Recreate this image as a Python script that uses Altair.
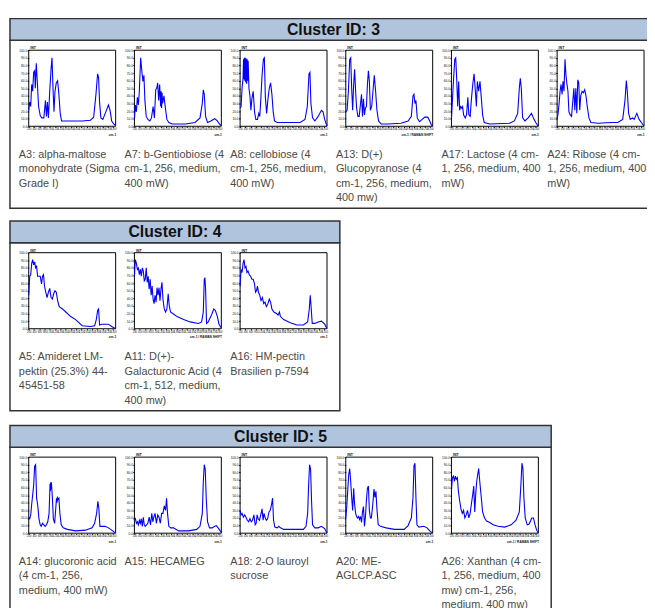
import altair as alt
import pandas as pd

# ---------------- data: (Raman shift cm-1, intensity %) read from the thumbnails
A3 = [(200,21),(237,32),(275,26),(312,55),(349,46),(387,71),(424,73),(449,50),(486,83),(524,59),(574,26),(636,14),(698,11),(773,11),(835,34),(872,13),(910,32),(947,11),(997,46),(1047,75),(1084,90),(1121,50),(1159,19),(1196,46),(1246,57),(1296,60),(1345,42),(1395,17),(1445,7),(1980,7),(2229,7),(2541,8),(2665,12),(2752,42),(2815,69),(2852,64),(2889,32),(2939,11),(3014,9),(3126,19),(3225,28),(3288,21),(3350,7),(3425,3),(3499,1)]
A7 = [(200,9),(237,28),(275,19),(312,38),(349,28),(387,46),(437,90),(486,71),(524,59),(561,67),(598,34),(648,13),(710,9),(785,7),(847,11),(910,26),(959,11),(1009,48),(1047,50),(1084,57),(1121,34),(1159,55),(1196,26),(1215,46),(1233,24),(1250,44),(1271,30),(1321,40),(1370,26),(1433,9),(1507,5),(1632,3),(2130,3),(2503,5),(2690,11),(2777,30),(2815,48),(2852,42),(2902,13),(2976,5),(3101,7),(3250,10),(3350,7),(3425,3),(3499,1)]
A8 = [(200,24),(237,26),(275,50),(312,63),(330,88),(345,62),(360,90),(378,60),(395,90),(412,58),(430,89),(450,56),(470,88),(490,60),(505,86),(536,50),(574,40),(611,21),(648,36),(698,46),(748,19),(798,9),(860,9),(910,17),(947,13),(984,34),(1034,67),(1084,88),(1121,90),(1159,38),(1208,17),(1258,36),(1308,50),(1358,57),(1408,42),(1457,19),(1507,7),(1607,5),(2478,5),(2665,9),(2752,26),(2815,69),(2852,71),(2889,30),(2951,11),(3039,7),(3163,13),(3288,21),(3350,19),(3412,9),(3499,0)]
A13 = [(200,19),(250,21),(300,46),(349,88),(387,90),(424,50),(461,21),(499,55),(536,75),(574,46),(611,24),(661,13),(710,13),(760,30),(798,42),(835,13),(872,36),(910,15),(947,24),(984,26),(1022,55),(1059,73),(1096,59),(1134,21),(1184,26),(1233,46),(1283,67),(1333,46),(1383,21),(1445,7),(1545,3),(1794,3),(2292,4),(2566,7),(2690,13),(2752,40),(2790,42),(2827,30),(2864,34),(2914,11),(3001,6),(3101,9),(3200,12),(3313,12),(3387,7),(3449,2),(3499,0)]
A17 = [(200,9),(237,34),(275,59),(325,88),(362,90),(399,63),(437,26),(474,59),(511,21),(549,26),(586,24),(623,26),(661,15),(723,11),(773,15),(823,38),(860,15),(910,13),(959,36),(1009,55),(1059,69),(1109,46),(1146,26),(1184,59),(1233,46),(1283,59),(1333,38),(1383,15),(1445,5),(1657,3),(2404,4),(2590,7),(2715,17),(2777,50),(2815,63),(2852,50),(2902,11),(2989,7),(3113,11),(3238,17),(3313,11),(3400,5),(3499,0)]
A24 = [(200,9),(237,17),(275,30),(312,46),(349,55),(387,42),(424,59),(461,46),(499,88),(536,67),(574,55),(611,46),(648,19),(698,15),(748,13),(798,34),(835,50),(872,21),(910,50),(947,17),(984,61),(1022,57),(1059,21),(1096,40),(1146,46),(1196,44),(1246,48),(1296,40),(1345,26),(1408,11),(1482,5),(1756,4),(2254,5),(2503,5),(2690,9),(2777,34),(2827,60),(2864,46),(2914,17),(2976,9),(3064,11),(3126,9),(3225,17),(3313,9),(3400,5),(3499,0)]
A5 = [(200,44),(237,69),(275,71),(312,86),(349,91),(387,84),(424,88),(461,80),(499,82),(536,69),(586,69),(636,69),(686,59),(723,69),(760,71),(798,56),(847,48),(897,41),(947,48),(997,53),(1047,41),(1096,39),(1146,46),(1196,50),(1246,48),(1296,37),(1358,29),(1482,26),(1607,22),(1794,16),(1980,12),(2229,4),(2541,3),(2702,4),(2765,12),(2815,24),(2852,26),(2889,5),(2976,6),(3101,6),(3225,6),(3350,3),(3499,0)]
A11 = [(200,69),(237,91),(275,86),(312,78),(349,80),(387,71),(424,78),(461,69),(499,80),(536,76),(574,63),(611,65),(648,80),(686,61),(723,69),(760,52),(798,65),(835,44),(872,56),(910,39),(947,33),(984,44),(1022,35),(1059,54),(1096,44),(1134,54),(1171,37),(1208,52),(1246,61),(1283,39),(1333,26),(1383,22),(1433,26),(1482,46),(1520,31),(1570,22),(1657,20),(1819,16),(2068,12),(2317,9),(2628,7),(2752,9),(2815,22),(2852,65),(2877,67),(2902,52),(2939,7),(3001,9),(3126,18),(3213,26),(3275,24),(3350,16),(3412,6),(3499,1)]
A16 = [(200,56),(237,78),(275,74),(312,86),(349,91),(387,80),(424,82),(461,74),(499,76),(549,71),(598,69),(648,65),(698,65),(748,59),(785,48),(823,50),(860,56),(897,48),(947,44),(997,37),(1047,41),(1096,33),(1146,35),(1196,29),(1258,33),(1308,39),(1358,35),(1408,26),(1482,22),(1582,20),(1644,18),(1694,22),(1731,16),(1856,12),(2105,8),(2354,5),(2603,5),(2765,9),(2827,26),(2864,44),(2902,26),(2939,7),(3039,7),(3163,9),(3288,10),(3412,6),(3499,0)]
A14 = [(200,21),(237,19),(275,24),(312,38),(349,50),(387,63),(424,88),(461,90),(499,46),(536,38),(561,30),(586,19),(636,11),(673,9),(723,13),(773,11),(823,9),(872,11),(922,15),(972,26),(1009,65),(1022,55),(1034,67),(1047,58),(1059,67),(1096,48),(1134,19),(1184,13),(1233,36),(1252,46),(1271,40),(1290,48),(1308,44),(1345,46),(1383,26),(1433,11),(1507,7),(1669,5),(1980,3),(2354,4),(2603,7),(2702,13),(2777,26),(2827,42),(2864,32),(2902,9),(2976,9),(3101,9),(3225,7),(3350,4),(3499,0)]
A15 = [(200,17),(237,19),(275,13),(312,15),(349,11),(387,17),(424,13),(461,19),(499,9),(536,21),(574,11),(611,9),(661,11),(710,13),(760,21),(810,11),(860,26),(897,15),(935,21),(984,26),(1034,13),(1084,24),(1134,21),(1184,13),(1233,26),(1283,26),(1333,36),(1383,30),(1420,46),(1457,26),(1507,9),(1582,7),(1682,7),(1881,3),(2254,3),(2566,5),(2690,9),(2777,26),(2815,67),(2852,90),(2889,84),(2927,46),(2976,15),(3051,7),(3151,7),(3250,9),(3313,10),(3400,6),(3499,1)]
A18 = [(200,30),(237,24),(275,26),(325,21),(374,24),(424,21),(474,17),(524,15),(574,19),(623,15),(673,17),(723,24),(773,11),(810,13),(847,24),(885,19),(935,17),(984,24),(1034,32),(1072,17),(1109,26),(1146,21),(1196,17),(1246,19),(1296,28),(1345,30),(1395,38),(1433,46),(1470,17),(1520,8),(1607,7),(1669,9),(1731,7),(1856,5),(2105,5),(2603,5),(2702,9),(2765,26),(2802,63),(2839,90),(2877,84),(2914,42),(2951,11),(3039,7),(3163,7),(3288,9),(3412,6),(3499,0)]
A20 = [(200,20),(237,35),(275,56),(312,77),(349,85),(387,68),(424,47),(461,30),(499,59),(536,38),(574,26),(611,22),(648,20),(686,22),(723,18),(760,22),(798,14),(835,28),(872,35),(910,9),(947,22),(984,43),(1022,59),(1059,62),(1096,30),(1134,20),(1171,20),(1221,36),(1271,58),(1308,47),(1345,55),(1383,32),(1433,11),(1520,9),(1731,7),(2043,5),(2416,5),(2566,10),(2690,20),(2752,47),(2790,89),(2827,92),(2864,47),(2902,11),(2976,8),(3163,9),(3288,7),(3387,3),(3499,0)]
A26 = [(200,56),(237,73),(275,75),(312,68),(349,75),(387,71),(424,73),(461,56),(511,43),(561,32),(611,26),(661,30),(710,20),(760,24),(810,30),(860,20),(910,26),(959,39),(1009,51),(1047,62),(1084,28),(1121,51),(1159,68),(1196,77),(1233,85),(1283,65),(1333,47),(1383,28),(1457,20),(1532,16),(1657,14),(1781,11),(1968,9),(2217,8),(2466,11),(2653,17),(2777,28),(2839,65),(2877,92),(2914,85),(2951,47),(3001,20),(3076,11),(3151,12),(3250,20),(3313,20),(3375,11),(3437,4),(3499,0)]

SPECTRA = {"A3": A3, "A7": A7, "A8": A8, "A13": A13, "A17": A17, "A24": A24,
           "A5": A5, "A11": A11, "A16": A16,
           "A14": A14, "A15": A15, "A18": A18, "A20": A20, "A26": A26}

CLUSTER_IDS = [3, 4, 5]
MEMBERS = [["A3", "A7", "A8", "A13", "A17", "A24"],
           ["A5", "A11", "A16"],
           ["A14", "A15", "A18", "A20", "A26"]]
CAPTIONS = {
    "A3": "A3: alpha-maltose\nmonohydrate (Sigma\nGrade I)",
    "A7": "A7: b-Gentiobiose (4\ncm-1, 256, medium,\n400 mW)",
    "A8": "A8: cellobiose (4\ncm-1, 256, medium,\n400 mW)",
    "A13": "A13: D(+)\nGlucopyranose (4\ncm-1, 256, medium,\n400 mw)",
    "A17": "A17: Lactose (4 cm-\n1, 256, medium, 400\nmW)",
    "A24": "A24: Ribose (4 cm-\n1, 256, medium, 400\nmW)",
    "A5": "A5: Amideret LM-\npektin (25.3%) 44-\n45451-58",
    "A11": "A11: D(+)-\nGalacturonic Acid (4\ncm-1, 512, medium,\n400 mw)",
    "A16": "A16: HM-pectin\nBrasilien p-7594",
    "A14": "A14: glucoronic acid\n(4 cm-1, 256,\nmedium, 400 mW)",
    "A15": "A15: HECAMEG",
    "A18": "A18: 2-O lauroyl\nsucrose",
    "A20": "A20: ME-\nAGLCP.ASC",
    "A26": "A26: Xanthan (4 cm-\n1, 256, medium, 400\nmw) cm-1, 256,\nmedium, 400 mw)",
}
LONG_X_TITLE = {"A13", "A11", "A26"}
X_TICKS = [200, 400, 600, 800, 1000, 1200, 1400, 1600, 1800, 2000, 2200, 2400, 2600, 2800, 3000, 3200, 3400]
Y_TICKS = [0, 10, 20, 30, 40, 50, 60, 70, 80, 90, 100]

# ---------------- layout (chart pixels)
W, H = 647, 600
OFF = 8
TOPS = [15, 220, 427]
HEAD_H, BODY_H = 22, 170
BOX_L, PITCH = 10, 107
FR_DX, FR_W, FR_DY, FR_H = 19, 88, 10, 77
CAP_DX, CAP_DY = 9, 110
FONT = "Liberation Sans"

heads, bodies, frames, titles, caps = [], [], [], [], []
lines = []
for cid, members, top in zip(CLUSTER_IDS, MEMBERS, TOPS):
    left = BOX_L - OFF
    right = BOX_L + PITCH * len(members) + 13 - OFF
    t = top - OFF
    hb = t + HEAD_H
    heads.append(dict(x=left, x2=right, y=t, y2=hb))
    bodies.append(dict(x=left, x2=right, y=hb, y2=hb + BODY_H))
    titles.append(dict(x=(left + right) / 2, y=t + HEAD_H / 2 + 0.5, text=f"Cluster ID: {cid}"))
    for i, m in enumerate(members):
        fl = left + FR_DX + PITCH * i
        ft = hb + FR_DY
        fr, fb = fl + FR_W, ft + FR_H
        frames.append(dict(x=fl, x2=fr, y=ft, y2=fb))
        caps.append(dict(x=left + CAP_DX + PITCH * i, y=hb + CAP_DY, text=CAPTIONS[m]))
        df = pd.DataFrame(SPECTRA[m], columns=["shift", "intensity"])
        xt = "cm-1 / RAMAN SHIFT" if m in LONG_X_TITLE else "cm-1"
        ch = alt.Chart(df).mark_line(color="#0000ff", strokeWidth=1.1).encode(
            x=alt.X("shift:Q",
                    scale=alt.Scale(domain=[200, 3500], range=[fl, fr], nice=False, zero=False),
                    axis=alt.Axis(orient="bottom", offset=fb - H, values=X_TICKS,
                                  labelFontSize=2.6, labelColor="#111", labelPadding=0.5,
                                  labelOverlap=False, labelFlush=False, labelBound=False,
                                  tickSize=1.2, tickColor="#000", domain=False, grid=False,
                                  title=xt, titleFontSize=3.2, titleFontWeight="bold",
                                  titleColor="#111", titleX=fr, titleY=6,
                                  titleAlign="right", titleBaseline="top", zindex=1)),
            y=alt.Y("intensity:Q",
                    scale=alt.Scale(domain=[0, 100], range=[fb, ft], nice=False, zero=False),
                    axis=alt.Axis(orient="left", offset=-fl, values=Y_TICKS, format=".1f",
                                  labelFontSize=3.2, labelColor="#111", labelPadding=0.5,
                                  labelOverlap=False, labelFlush=False,
                                  tickSize=1.5, tickColor="#000", domain=False, grid=False,
                                  title="INT", titleAngle=0, titleFontSize=3.6,
                                  titleFontWeight="bold", titleColor="#111",
                                  titleX=1, titleY=ft - 0.5, titleAlign="left",
                                  titleBaseline="bottom", zindex=1)),
        )
        lines.append(ch)


def rect_layer(rows, **mark):
    return alt.Chart(pd.DataFrame(rows)).mark_rect(**mark).encode(
        x=alt.X("x:Q", scale=None, axis=None), x2="x2:Q",
        y=alt.Y("y:Q", scale=None, axis=None), y2="y2:Q")


def text_layer(rows, **mark):
    return alt.Chart(pd.DataFrame(rows)).mark_text(**mark).encode(
        x=alt.X("x:Q", scale=None, axis=None),
        y=alt.Y("y:Q", scale=None, axis=None),
        text="text:N")


head_layer = rect_layer(heads, fill="#b0c4de", stroke="#333333", strokeWidth=1.5)
body_layer = rect_layer(bodies, fill="white", stroke="#333333", strokeWidth=1.5)
frame_layer = rect_layer(frames, fill="white", stroke="#000000", strokeWidth=1)
title_layer = text_layer(titles, font=FONT, fontSize=16, fontWeight="bold", color="#111111",
                         align="center", baseline="middle")
cap_layer = text_layer(caps, font=FONT, fontSize=11, color="#4a4a4a", align="left",
                       baseline="top", lineBreak="\n", lineHeight=14.6)

chart = alt.layer(body_layer, head_layer, frame_layer, title_layer, cap_layer, *lines).resolve_scale(
    x="independent", y="independent").resolve_axis(x="independent", y="independent").properties(
    width=W, height=H, autosize=alt.AutoSizeParams(type="none"), padding=0,
    background="white").configure_view(strokeWidth=0)

chart.save("out.html", embed_options={"renderer": "svg", "actions": False})
